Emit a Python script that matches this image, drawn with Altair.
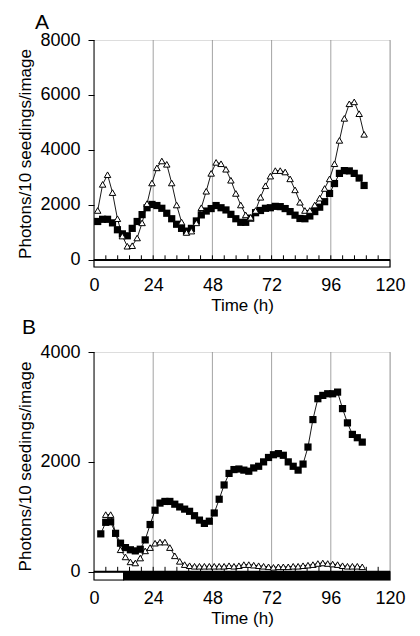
import altair as alt
import pandas as pd

# ---------------- data ----------------
a_time = [1.5, 3.5, 5.5, 7.5, 9.5, 11.5, 13.5, 15.5, 17.5, 19.5,
          21.5, 23.5, 25.5, 27.5, 29.5, 31.5, 33.5, 35.5, 37.5, 39.5,
          41.5, 43.5, 45.5, 47.5, 49.5, 51.5, 53.5, 55.5, 57.5, 59.5,
          61.5, 63.5, 65.5, 67.5, 69.5, 71.5, 73.5, 75.5, 77.5, 79.5,
          81.5, 83.5, 85.5, 87.5, 89.5, 91.5, 93.5, 95.5, 97.5, 99.5,
          101.5, 103.5, 105.5, 107.5, 109.5]
a_triangle = [1800, 2750, 3100, 2450, 1500, 870, 500, 520, 800, 1350,
              2050, 2800, 3350, 3600, 3480, 2800, 2000, 1380, 1000, 1050,
              1350, 1900, 2500, 3150, 3550, 3500, 3300, 2900, 2420, 2000,
              1640, 1550, 1800, 2280, 2700, 3050, 3250, 3250, 3200, 2950,
              2550, 2100, 1800, 1800, 2000, 2250, 2600, 2950, 3500, 4350,
              5150, 5680, 5750, 5320, 4570]
a_square = [1400, 1480, 1480, 1350, 1100, 950, 880, 1150, 1400, 1650,
            1900, 2020, 1980, 1880, 1700, 1500, 1300, 1150, 1050, 1150,
            1420, 1640, 1780, 1870, 1980, 1900, 1820, 1660, 1500, 1370,
            1370, 1520, 1720, 1800, 1880, 1900, 1950, 1940, 1870, 1760,
            1630, 1510, 1500, 1600, 1760, 1920, 2120, 2420, 2780, 3150,
            3250, 3240, 3150, 2980, 2710]

b_time_square = [2.75, 4.75, 6.75, 8.75, 10.75, 12.75, 14.75, 16.75, 18.75, 20.75,
                 22.75, 24.75, 26.75, 28.75, 30.75, 32.75, 34.75, 36.75, 38.75, 40.75,
                 42.75, 44.75, 46.75, 48.75, 50.75, 52.75, 54.75, 56.75, 58.75, 60.75,
                 62.75, 64.75, 66.75, 68.75, 70.75, 72.75, 74.75, 76.75, 78.75, 80.75,
                 82.75, 84.75, 86.75, 88.75, 90.75, 92.75, 94.75, 96.75, 98.75, 100.75,
                 102.75, 104.75, 106.75, 108.75]
b_square = [690, 900, 910, 700, 520, 440, 400, 380, 410, 580,
            860, 1120, 1250, 1280, 1280, 1230, 1180, 1140, 1100, 1020,
            940, 880, 920, 1070, 1320, 1580, 1790, 1860, 1870, 1850,
            1830, 1890, 1920, 2000, 2080, 2130, 2150, 2120, 2000, 1920,
            1850, 1960, 2270, 2770, 3150, 3210, 3240, 3240, 3270, 2970,
            2710, 2500, 2440, 2360]
b_time_triangle = [4.75, 6.75, 8.75, 10.75, 12.75, 14.75, 16.75, 18.75, 20.75, 22.75,
                   24.75, 26.75, 28.75, 30.75, 32.75, 34.75, 36.75, 38.75, 40.75, 42.75,
                   44.75, 46.75, 48.75, 50.75, 52.75, 54.75, 56.75, 58.75, 60.75, 62.75,
                   64.75, 66.75, 68.75, 70.75, 72.75, 74.75, 76.75, 78.75, 80.75, 82.75,
                   84.75, 86.75, 88.75, 90.75, 92.75, 94.75, 96.75, 98.75, 100.75, 102.75,
                   104.75, 106.75, 108.75]
b_triangle = [1040, 1040, 700, 400, 270, 180, 160, 250, 380, 440,
              520, 540, 540, 440, 290, 190, 130, 110, 100, 100,
              100, 100, 100, 100, 100, 110, 100, 110, 130, 130,
              120, 110, 100, 90, 80, 90, 90, 90, 100, 100,
              110, 120, 130, 150, 160, 150, 140, 130, 110, 100,
              100, 100, 90]

x_tick_values = [0, 24, 48, 72, 96, 120]
grid_hours = [24, 48, 72, 96, 120]
minor_hours = [4.8, 9.6, 14.4, 19.2, 24, 28.8, 33.6, 38.4, 43.2, 48,
               52.8, 57.6, 62.4, 67.2, 72, 76.8, 81.6, 86.4, 91.2, 96,
               100.8, 105.6, 110.4, 115.2]
a_y_ticks = [0, 2000, 4000, 6000, 8000]
b_y_ticks = [0, 2000, 4000]

a_bar_start = [0]
a_bar_end = [120]
a_bar_kind = ["light"]
b_bar_start = [0, 12]
b_bar_end = [12, 120]
b_bar_kind = ["light", "dark"]

FONT = "Liberation Sans"
Y_TITLE = "Photons/10 seedings/image"


def panel(label, t_tri, v_tri, t_sq, v_sq, ymax, ybar, yticks, tick_len,
          bar_s, bar_e, bar_k, height, tri_on_top, title_offset, title_dx):
    xs = alt.Scale(domain=[0, 120], nice=False, zero=False)
    ys = alt.Scale(domain=[-ybar, ymax], nice=False, zero=False)
    xaxis = alt.Axis(values=x_tick_values, title="Time (h)", domain=False,
                     ticks=False, grid=False, labelPadding=9, labelFontSize=18,
                     labelFlush=False, labelOverlap=False, titleFontSize=17,
                     titlePadding=3, titleFontWeight="normal", labelFont=FONT,
                     titleFont=FONT, labelColor="black", titleColor="black",
                     format="d")
    yaxis = alt.Axis(values=yticks, title=Y_TITLE, domain=False, ticks=True,
                     tickSize=6, tickColor="black", grid=False, labelPadding=8,
                     labelFontSize=18, labelOverlap=False, titleFontSize=17,
                     titlePadding=5, titleFontWeight="normal", labelFont=FONT,
                     titleFont=FONT, labelColor="black", titleColor="black",
                     format="d")

    def X(f):
        return alt.X(f, type="quantitative", scale=xs, axis=xaxis)

    def Y(f):
        return alt.Y(f, type="quantitative", scale=ys, axis=yaxis)

    grid_df = pd.DataFrame({"t": grid_hours, "v0": [0] * len(grid_hours),
                            "v1": [ymax] * len(grid_hours)})
    grid = alt.Chart(grid_df).mark_rule(color="#8c8c8c", strokeWidth=0.8).encode(
        x=X("t"), y=Y("v0"), y2="v1")

    minor_df = pd.DataFrame({"t": minor_hours, "v0": [0] * len(minor_hours),
                             "v1": [tick_len] * len(minor_hours)})
    minor = alt.Chart(minor_df).mark_rule(color="black", strokeWidth=1).encode(
        x=X("t"), y=Y("v0"), y2="v1")

    bar_df = pd.DataFrame({"t0": bar_s, "t1": bar_e, "kind": bar_k,
                           "v0": [-ybar] * len(bar_s), "v1": [0] * len(bar_s)})
    bar = alt.Chart(bar_df).mark_rect(stroke="black", strokeWidth=1.2).encode(
        x=X("t0"), x2="t1", y=Y("v0"), y2="v1",
        fill=alt.Fill("kind:N", scale=alt.Scale(domain=["light", "dark"],
                                                range=["white", "black"]),
                      legend=None))

    base_df = pd.DataFrame({"t0": [0], "t1": [120], "v0": [0], "v1": [ymax]})
    yline = alt.Chart(base_df).mark_rule(color="black", strokeWidth=1).encode(
        x=X("t0"), y=Y("v0"), y2="v1")
    xline = alt.Chart(base_df).mark_rule(color="black", strokeWidth=2).encode(
        x=X("t0"), x2="t1", y=Y("v0"))

    tri_df = pd.DataFrame({"t": t_tri, "v": v_tri})
    sq_df = pd.DataFrame({"t": t_sq, "v": v_sq})
    tri_line = alt.Chart(tri_df).mark_line(color="black", strokeWidth=0.9).encode(
        x=X("t"), y=Y("v"))
    sq_line = alt.Chart(sq_df).mark_line(color="black", strokeWidth=0.9).encode(
        x=X("t"), y=Y("v"))
    tri_pts = alt.Chart(tri_df).mark_point(shape="triangle-up", size=42,
                                           filled=True, fill="white",
                                           stroke="black", strokeWidth=1,
                                           opacity=1).encode(x=X("t"), y=Y("v"))
    sq_pts = alt.Chart(sq_df).mark_point(shape="square", size=52, filled=True,
                                         color="black", opacity=1).encode(
        x=X("t"), y=Y("v"))

    if tri_on_top:
        pts = [sq_line, sq_pts, tri_line, tri_pts]
    else:
        pts = [tri_line, tri_pts, sq_line, sq_pts]

    return alt.layer(grid, minor, bar, yline, xline, *pts).properties(
        width=296, height=height,
        title=alt.TitleParams(label, anchor="start", fontSize=21,
                              fontWeight="normal", font=FONT, color="black",
                              dx=title_dx, offset=title_offset))


chart_a = panel("A", a_time, a_triangle, a_time, a_square, 8000, 255,
                a_y_ticks, 170, a_bar_start, a_bar_end, a_bar_kind, 227, True,
                -2, 18)
chart_b = panel("B", b_time_triangle, b_triangle, b_time_square, b_square,
                4000, 150, b_y_ticks, 90, b_bar_start, b_bar_end, b_bar_kind,
                228, False, 5, 5)

chart = alt.vconcat(chart_a, chart_b, spacing=2).resolve_scale(
    x="independent", y="independent", fill="independent").properties(
    padding={"left": 8, "top": 3, "right": 5, "bottom": 5}).configure_view(
    stroke=None).configure(background="white")

chart.save("out.html", embed_options={"renderer": "svg", "actions": False})
